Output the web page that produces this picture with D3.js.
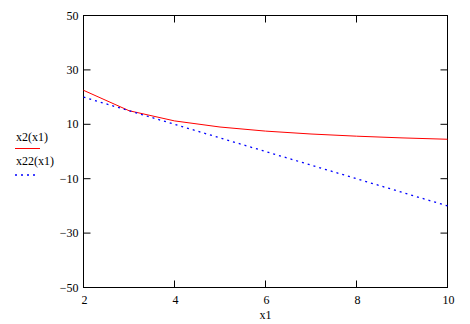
<!DOCTYPE html>
<html><head><meta charset="utf-8">
<script src="https://cdn.jsdelivr.net/npm/d3@7"></script>
<style>body{margin:0;background:#fff}text{font-family:"Liberation Serif",serif;font-size:12px;fill:#000}</style>
</head><body><svg id="c" width="470" height="324"></svg>
<script>
const xValues = [2, 3, 4, 5, 6, 7, 8, 9, 10];
const x2Values = [22.5, 15, 11.25, 9, 7.5, 6.43, 5.63, 5, 4.5];
const x22Values = [20, 15, 10, 5, 0, -5, -10, -15, -20];
const xTicks = [2, 4, 6, 8, 10];
const yTicks = [-50, -30, -10, 10, 30, 50];
const seriesNames = ["x2(x1)", "x22(x1)"];
const xLabel = "x1";

const svg = d3.select("#c");
const L = 83.5, R = 447.5, T = 15.5, B = 287.5;
const x = d3.scaleLinear().domain([2, 10]).range([L, R]);
const y = d3.scaleLinear().domain([-50, 50]).range([B, T]);

// frame
svg.append("rect").attr("x", L).attr("y", T).attr("width", R - L).attr("height", B - T)
  .attr("fill", "none").attr("stroke", "#000").attr("stroke-width", 1);

const tk = 7;
const g = svg.append("g").attr("stroke", "#000").attr("stroke-width", 1);
xTicks.forEach(v => {
  g.append("line").attr("x1", x(v)).attr("x2", x(v)).attr("y1", B).attr("y2", B - tk);
  g.append("line").attr("x1", x(v)).attr("x2", x(v)).attr("y1", T).attr("y2", T + tk);
});
yTicks.forEach(v => {
  g.append("line").attr("x1", L).attr("x2", L + tk).attr("y1", y(v)).attr("y2", y(v));
  g.append("line").attr("x1", R).attr("x2", R - tk).attr("y1", y(v)).attr("y2", y(v));
});

yTicks.forEach(v => {
  svg.append("text").attr("x", L - 5).attr("y", y(v) + 4).attr("text-anchor", "end")
    .text(v < 0 ? "\u2212" + Math.abs(v) : v);
});
xTicks.forEach(v => {
  svg.append("text").attr("x", x(v) + 1).attr("y", B + 16).attr("text-anchor", "middle").text(v);
});
svg.append("text").attr("x", (L + R) / 2).attr("y", 319).attr("text-anchor", "middle").text(xLabel);

const line = d3.line().x(d => x(d[0])).y(d => y(d[1]));
svg.append("path").datum(xValues.map((v, i) => [v, x2Values[i]])).attr("d", line)
  .attr("fill", "none").attr("stroke", "#ff0000").attr("stroke-width", 1);
svg.append("path").datum(xValues.map((v, i) => [v, x22Values[i]])).attr("d", line)
  .attr("fill", "none").attr("stroke", "#0000ff").attr("stroke-width", 1.3).attr("stroke-dasharray", "2,4");

// legend
svg.append("text").attr("x", 16).attr("y", 141).text(seriesNames[0]);
svg.append("line").attr("x1", 15).attr("x2", 40).attr("y1", 148.5).attr("y2", 148.5)
  .attr("stroke", "#ff0000").attr("stroke-width", 1);
svg.append("text").attr("x", 16).attr("y", 165).text(seriesNames[1]);
svg.append("line").attr("x1", 15).attr("x2", 37).attr("y1", 175).attr("y2", 175)
  .attr("stroke", "#0000ff").attr("stroke-width", 1.3).attr("stroke-dasharray", "2,4");
</script></body></html>
